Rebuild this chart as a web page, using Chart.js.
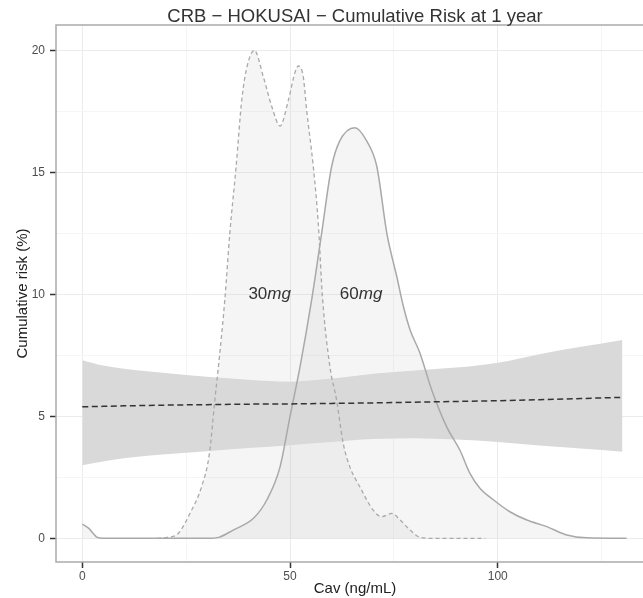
<!DOCTYPE html>
<html>
<head>
<meta charset="utf-8">
<script src="https://cdn.jsdelivr.net/npm/chart.js@4.4.1/dist/chart.umd.min.js"></script>
<style>
  html, body { margin: 0; padding: 0; background: #fff; overflow: hidden; }
  #wrap { width: 660px; height: 598px; position: relative; }
</style>
</head>
<body>
<div id="wrap"><canvas id="cumrisk"></canvas></div>
<script>
// tick labels
const xTickLabels = [0, 50, 100];
const yTickLabels = [0, 5, 10, 15, 20];
const xMinorTicks = [25, 75, 125];
const yMinorTicks = [2.5, 7.5, 12.5, 17.5];

// 30mg exposure density (dashed)
const cav30 = [18, 20.5, 23.1, 25.9, 28.7, 30.6, 31.9, 33.1, 34.3, 35.5, 37, 38.4, 39.6, 41.4, 43.6, 45.6, 47.6, 49.6, 51.2, 52, 53.2, 54, 55.6, 56.8, 57.8, 59.6, 61.2, 62.8, 64.4, 66.8, 70, 72, 74.5, 76.5, 78.9, 81.3, 84.5, 97];
const risk30 = [0, 0.04, 0.2, 1.02, 2.11, 3.48, 5.67, 7.6, 9.77, 12.5, 15.2, 18, 19.3, 20, 18.9, 17.7, 16.9, 17.96, 19.1, 19.36, 18.9, 17.55, 15.23, 12.9, 9.9, 7.03, 5.67, 3.89, 2.93, 2.11, 1.16, 0.89, 1.02, 0.75, 0.34, 0.04, 0, 0];

// 60mg exposure density (solid)
const cav60 = [0, 1.5, 3.5, 5, 30, 33, 36.3, 41.2, 44.4, 47.6, 50, 52.4, 55.2, 57.6, 60, 62, 65.6, 68.4, 70.9, 73.3, 75.7, 77.3, 78.9, 81.3, 84.1, 87.7, 90.9, 93.3, 95.7, 99, 102.9, 107, 111.8, 116.6, 121.4, 131];
const risk60 = [0.58, 0.42, 0.05, 0, 0, 0.05, 0.34, 0.82, 1.57, 2.93, 5, 7.03, 9.77, 12.5, 15.23, 16.3, 16.83, 16.3, 15.23, 12.5, 10.72, 9.49, 8.54, 7.58, 6.08, 4.57, 3.61, 2.66, 2.05, 1.57, 1.09, 0.75, 0.48, 0.14, 0.02, 0];

// fitted cumulative risk and confidence band
const cavFit = [0, 5, 10, 20, 30, 40, 50, 60, 70, 80, 90, 100, 110, 120, 130];
const fitMean = [5.39, 5.41, 5.43, 5.46, 5.48, 5.5, 5.51, 5.53, 5.55, 5.58, 5.61, 5.64, 5.68, 5.73, 5.78];
const fitUpper = [7.3, 7.08, 6.95, 6.78, 6.62, 6.5, 6.42, 6.55, 6.75, 6.88, 7.0, 7.2, 7.55, 7.85, 8.13];
const fitLower = [3.0, 3.15, 3.28, 3.45, 3.57, 3.7, 3.82, 3.95, 4.07, 4.1, 4.05, 3.95, 3.8, 3.68, 3.55];

// dose labels
const doseLabels = [
  { num: '30', unit: 'mg', x: 45.1, y: 10 },
  { num: '60', unit: 'mg', x: 67.1, y: 10 }
];
const chartTitle = 'CRB \u2212 HOKUSAI \u2212 Cumulative Risk at 1 year';

const pts = (xs, ys) => xs.map((x, i) => ({ x: x, y: ys[i] }));
const FONT = "'Liberation Sans', Arial, Helvetica, sans-serif";
Chart.defaults.font.family = FONT;

const panelPlugin = {
  id: 'panel',
  afterDatasetsDraw(chart) {
    const ctx = chart.ctx, xs = chart.scales.x, ys = chart.scales.y;
    ctx.save();
    ctx.fillStyle = '#333333';
    ctx.textBaseline = 'middle';
    doseLabels.forEach(d => {
      ctx.font = '17px ' + FONT;
      const w1 = ctx.measureText(d.num).width;
      ctx.font = 'italic 17px ' + FONT;
      const w2 = ctx.measureText(d.unit).width;
      const x0 = xs.getPixelForValue(d.x) - (w1 + w2) / 2;
      const y0 = ys.getPixelForValue(d.y);
      ctx.font = '17px ' + FONT;
      ctx.fillText(d.num, x0, y0);
      ctx.font = 'italic 17px ' + FONT;
      ctx.fillText(d.unit, x0 + w1, y0);
    });
    ctx.restore();
  },
  afterDraw(chart) {
    const ctx = chart.ctx, a = chart.chartArea;
    ctx.save();
    ctx.strokeStyle = '#aaaaaa';
    ctx.lineWidth = 1.5;
    ctx.strokeRect(a.left, a.top, a.right - a.left, a.bottom - a.top);
    ctx.fillStyle = '#333333';
    ctx.font = '18.5px ' + FONT;
    ctx.textAlign = 'center';
    ctx.textBaseline = 'alphabetic';
    ctx.fillText(chartTitle, (a.left + a.right) / 2, 21.5);
    ctx.restore();
  }
};

const isMajor = (list, v) => list.includes(v);

new Chart(document.getElementById('cumrisk'), {
  type: 'line',
  data: {
    datasets: [
      {
        label: 'fit',
        data: pts(cavFit, fitMean),
        borderColor: '#333333',
        borderWidth: 1.5,
        borderDash: [6, 3.5],
        pointRadius: 0,
        fill: false
      },
      {
        label: 'upper',
        data: pts(cavFit, fitUpper),
        borderColor: 'transparent',
        borderWidth: 0,
        backgroundColor: '#d9d9d9',
        pointRadius: 0,
        cubicInterpolationMode: 'monotone',
        fill: '+1'
      },
      {
        label: 'lower',
        data: pts(cavFit, fitLower),
        borderColor: 'transparent',
        borderWidth: 0,
        pointRadius: 0,
        cubicInterpolationMode: 'monotone',
        fill: false
      },
      {
        label: '60mg',
        data: pts(cav60, risk60),
        borderColor: '#a9a9a9',
        borderWidth: 1.5,
        backgroundColor: 'rgba(190,190,190,0.16)',
        pointRadius: 0,
        cubicInterpolationMode: 'monotone',
        fill: 'origin'
      },
      {
        label: '30mg',
        data: pts(cav30, risk30),
        borderColor: '#a9a9a9',
        borderWidth: 1.3,
        borderDash: [4, 3],
        backgroundColor: 'rgba(190,190,190,0.16)',
        pointRadius: 0,
        cubicInterpolationMode: 'monotone',
        fill: 'origin'
      }
    ]
  },
  options: {
    responsive: true,
    maintainAspectRatio: false,
    animation: false,
    layout: { padding: { top: 25, left: 0, right: 6, bottom: 0 } },
    plugins: {
      legend: { display: false },
      tooltip: { enabled: false },
      title: { display: false },
      filler: { drawTime: 'beforeDatasetsDraw' }
    },
    scales: {
      x: {
        type: 'linear',
        min: -6.33,
        max: 137.6,
        afterFit: s => { s.height = 36; },
        afterBuildTicks: s => {
          s.ticks = xTickLabels.concat(xMinorTicks).sort((a, b) => a - b).map(v => ({ value: v }));
        },
        border: { display: false },
        grid: {
          color: c => isMajor(xTickLabels, c.tick.value) ? '#ebebeb' : '#f5f5f5',
          tickColor: c => isMajor(xTickLabels, c.tick.value) ? '#333333' : 'rgba(0,0,0,0)',
          tickLength: 6,
          tickWidth: 1.5
        },
        ticks: {
          autoSkip: false,
          maxRotation: 0,
          padding: 1,
          color: '#4d4d4d',
          font: { size: 12 },
          callback: v => isMajor(xTickLabels, v) ? String(v) : ''
        },
        title: {
          display: true,
          text: 'Cav (ng/mL)',
          color: '#222222',
          font: { size: 15 },
          padding: { top: 0, bottom: 0 }
        }
      },
      y: {
        min: -0.97,
        max: 21.04,
        afterFit: s => { s.width = 56; },
        afterBuildTicks: s => {
          s.ticks = yTickLabels.concat(yMinorTicks).sort((a, b) => a - b).map(v => ({ value: v }));
        },
        border: { display: false },
        grid: {
          color: c => isMajor(yTickLabels, c.tick.value) ? '#ebebeb' : '#f5f5f5',
          tickColor: c => isMajor(yTickLabels, c.tick.value) ? '#333333' : 'rgba(0,0,0,0)',
          tickLength: 6,
          tickWidth: 1.5
        },
        ticks: {
          autoSkip: false,
          padding: 5,
          color: '#4d4d4d',
          font: { size: 12 },
          callback: v => isMajor(yTickLabels, v) ? String(v) : ''
        },
        title: {
          display: true,
          text: 'Cumulative risk (%)',
          color: '#222222',
          font: { size: 15 },
          padding: { top: 14, bottom: 0 }
        }
      }
    }
  },
  plugins: [panelPlugin]
});
</script>
</body>
</html>
